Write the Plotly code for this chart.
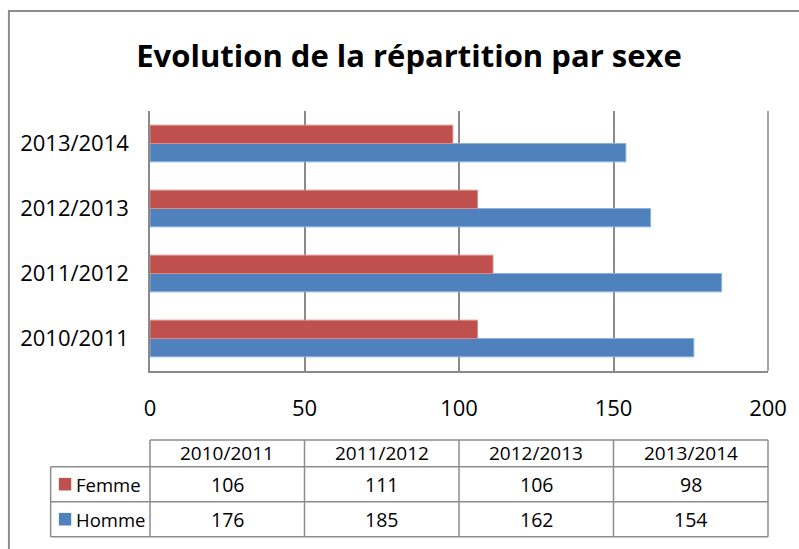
import plotly.graph_objects as go

categories = ["2010/2011", "2011/2012", "2012/2013", "2013/2014"]
femme = [106, 111, 106, 98]
homme = [176, 185, 162, 154]
series_names = ["Femme", "Homme"]
x_ticks = [0, 50, 100, 150, 200]

COL_F = "#C0504D"
COL_H = "#4F81BD"
GRID = "#8A8A8A"
FONT = "Open Sans"

W, H = 799, 549
ML, MR, MT, MB = 150, 27, 111, 178
PW, PH = W - ML - MR, H - MT - MB


def pxx(p):
    return (p - ML) / PW


def pxy(p):
    return (H - MB - p) / PH


fig = go.Figure()
fig.add_trace(go.Bar(y=categories, x=homme, name="Homme", orientation="h",
                     marker=dict(color=COL_H, line=dict(color="#8DB0DC", width=1))))
fig.add_trace(go.Bar(y=categories, x=femme, name="Femme", orientation="h",
                     marker=dict(color=COL_F, line=dict(color="#D98B89", width=1))))

xr = [x_ticks[0], x_ticks[-1]]

fig.update_layout(
    width=W, height=H,
    margin=dict(l=ML, r=MR, t=MT, b=MB, pad=0),
    paper_bgcolor="white", plot_bgcolor="white",
    barmode="group", bargap=0.436, bargroupgap=0,
    showlegend=False,
    font=dict(family=FONT, color="black"),
    title=dict(text="Evolution de la répartition par sexe", xref="container",
               x=409 / W, xanchor="center", yref="container", y=1 - 56 / H,
               yanchor="middle", font=dict(family=FONT, size=31, weight="bold", color="black")),
    xaxis=dict(range=xr, tickvals=x_ticks, showgrid=True, gridcolor=GRID, gridwidth=1.5,
               showline=True, linecolor=GRID, linewidth=1.5, zeroline=False,
               ticks="", tickfont=dict(size=22, color="black"), ticklabelstandoff=17,
               fixedrange=True),
    yaxis=dict(type="category", categoryorder="array", categoryarray=categories,
               showgrid=False, showline=True, linecolor=GRID, linewidth=1.5,
               ticks="", tickfont=dict(size=22, color="black"), ticklabelstandoff=15,
               fixedrange=True),
)

shapes = []
# right gridline at end of range
shapes.append(dict(type="line", xref="paper", yref="paper", x0=1, x1=1, y0=0, y1=1,
                   line=dict(color=GRID, width=1.5)))
# outer chart border
shapes.append(dict(type="rect", xref="paper", yref="paper", x0=pxx(8), x1=pxx(W + 10),
                   y0=pxy(H + 10), y1=pxy(11), line=dict(color="#8C8C8C", width=2),
                   fillcolor="rgba(0,0,0,0)", layer="below"))

# data table
ncol = len(categories)
col_edges = [i / ncol for i in range(ncol + 1)]
leg_left = pxx(50)
row_top, row_f, row_h, row_bot = pxy(440), pxy(466.7), pxy(501.7), pxy(536.7)
TL = dict(color="#8C8C8C", width=1.5)
shapes.append(dict(type="line", xref="paper", yref="paper", x0=0, x1=1, y0=row_top, y1=row_top, line=TL))
for yy in (row_f, row_h, row_bot):
    shapes.append(dict(type="line", xref="paper", yref="paper", x0=leg_left, x1=1, y0=yy, y1=yy, line=TL))
for xe in col_edges:
    shapes.append(dict(type="line", xref="paper", yref="paper", x0=xe, x1=xe, y0=row_bot, y1=row_top, line=TL))
shapes.append(dict(type="line", xref="paper", yref="paper", x0=leg_left, x1=leg_left, y0=row_bot, y1=row_f, line=TL))

annotations = []
hdr_y = (row_top + row_f) / 2
row_ys = [(row_f + row_h) / 2, (row_h + row_bot) / 2]
for i, cat in enumerate(categories):
    cx = (col_edges[i] + col_edges[i + 1]) / 2
    annotations.append(dict(text=cat, xref="paper", yref="paper", x=cx, y=hdr_y,
                            showarrow=False, xanchor="center", yanchor="middle",
                            font=dict(size=19, color="black")))
    for vals, ry in ((femme, row_ys[0]), (homme, row_ys[1])):
        annotations.append(dict(text=str(vals[i]), xref="paper", yref="paper", x=cx, y=ry,
                                showarrow=False, xanchor="center", yanchor="middle",
                                font=dict(size=19.5, color="black")))

for name, col, ry in ((series_names[0], COL_F, row_ys[0]), (series_names[1], COL_H, row_ys[1])):
    half = 6.3 / PH
    shapes.append(dict(type="rect", xref="paper", yref="paper", x0=pxx(58.3), x1=pxx(70.7),
                       y0=ry - half, y1=ry + half, line=dict(width=0), fillcolor=col))
    annotations.append(dict(text=name, xref="paper", yref="paper", x=pxx(74), y=ry,
                            showarrow=False, xanchor="left", yanchor="middle",
                            font=dict(size=18.5, color="black")))

fig.update_layout(shapes=shapes, annotations=annotations)
fig.write_html("out.html", config={"displayModeBar": False},
               post_script="document.body.style.margin='0px';document.body.style.overflow='hidden';")
